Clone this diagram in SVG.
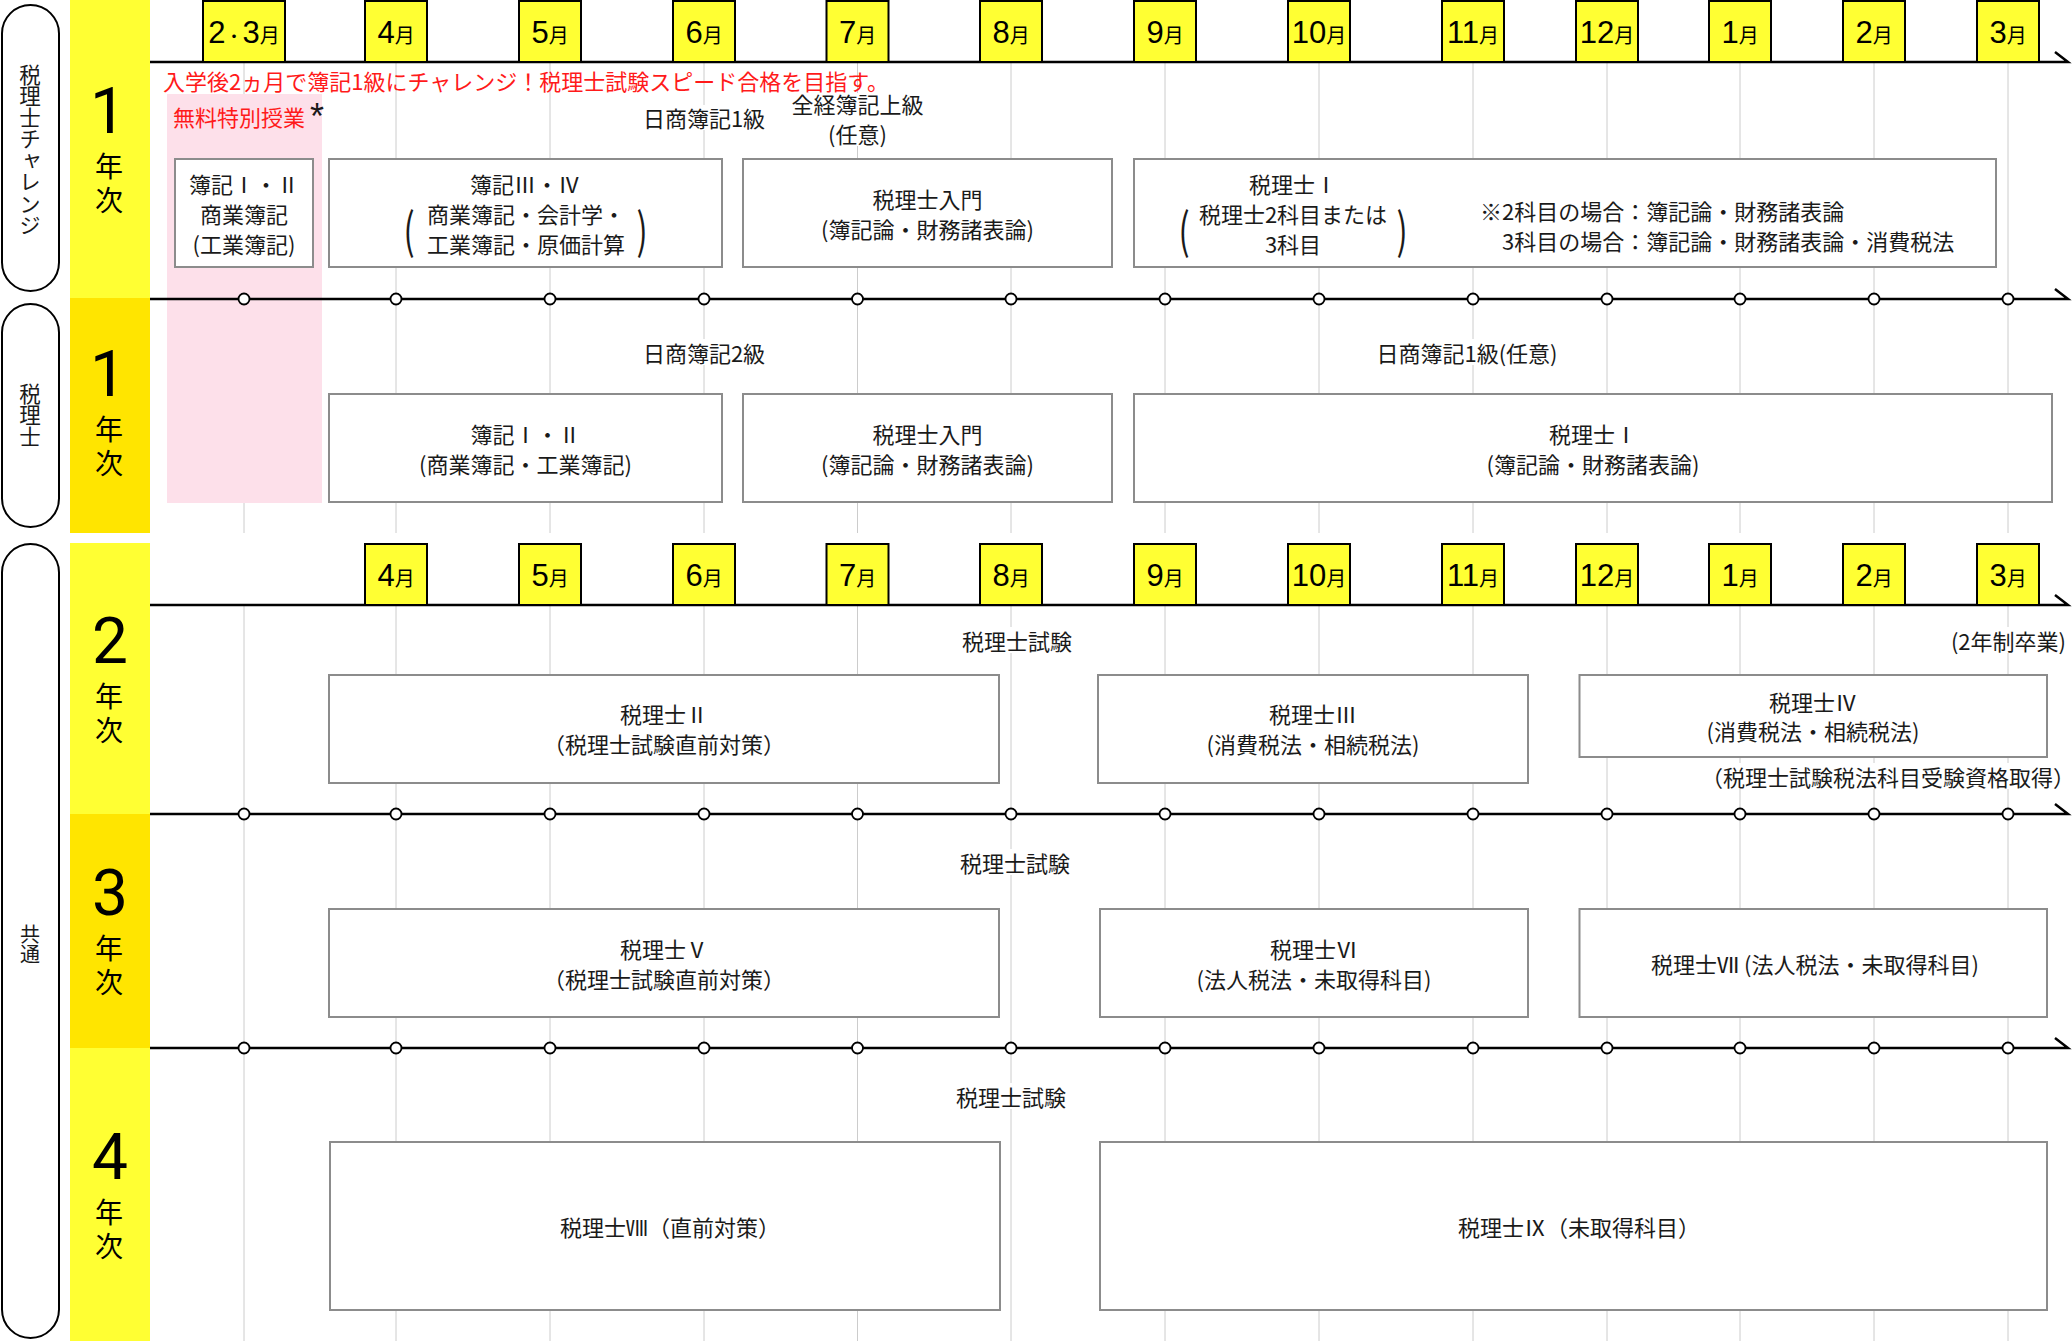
<svg xmlns="http://www.w3.org/2000/svg" width="2072" height="1341" viewBox="0 0 2072 1341">
<style>
.bgw{fill:#fff}
.yl{fill:#ffff33}
.yd{fill:#ffe500}
.pink{fill:#fde0ea}
.pill{fill:#fff;stroke:#000;stroke-width:2}
.mb{fill:#ffff33;stroke:#000;stroke-width:2}
.box{fill:#fff;stroke:#8c8c8c;stroke-width:2}
.grid{stroke:#cccccc;stroke-width:1;fill:none}
.tl{stroke:#000;stroke-width:2.5;fill:none}
.dot{fill:#fff;stroke:#000;stroke-width:1.8}
.t{font-family:"Noto Sans CJK JP","Noto Sans CJK SC",sans-serif;font-size:22px;fill:#1a1a1a;text-anchor:middle;dominant-baseline:central}
.ts{text-anchor:start}
.te{text-anchor:end}
.red{fill:#ff1a1a}
.mt{text-anchor:middle;fill:#000}
.d{font-family:"Liberation Sans Narrow","Liberation Sans",Arial,sans-serif;font-size:31px}
.k{font-family:"Noto Sans CJK JP",sans-serif;font-size:20px}
.kd{font-family:"Noto Sans CJK JP",sans-serif;font-size:17px}
.num{font-family:Roboto,"Liberation Sans",sans-serif;font-size:64px;fill:#000;text-anchor:middle}
.nen{font-family:"Noto Sans CJK JP",sans-serif;font-size:28px;fill:#000;text-anchor:middle;dominant-baseline:central}
.vt{font-family:"Noto Sans CJK JP",sans-serif;font-size:21.5px;fill:#1a1a1a;writing-mode:vertical-rl;text-anchor:middle}
.par{font-family:"Noto Sans CJK JP",sans-serif;font-size:22px;fill:#1a1a1a;text-anchor:middle;dominant-baseline:central}
.ast{font-family:"Liberation Sans",Arial,sans-serif;font-size:36px;fill:#1a1a1a;text-anchor:middle}
</style>

<!-- background bands -->
<g id="bands">
<rect class="yl" x="70" y="0" width="80" height="298"/>
<rect class="yd" x="70" y="298" width="80" height="235"/>
<rect class="yl" x="70" y="543" width="80" height="271"/>
<rect class="yd" x="70" y="814" width="80" height="234"/>
<rect class="yl" x="70" y="1048" width="80" height="293"/>
</g>

<!-- grid lines -->
<g id="grid" class="grid">
<path d="M244 62V533M396 62V533M550 62V533M704 62V533M857.5 62V533M1011 62V533M1165 62V533M1319 62V533M1473 62V533M1607 62V533M1740 62V533M1874 62V533M2008 62V533"/>
<path d="M244 605V1341M396 605V1341M550 605V1341M704 605V1341M857.5 605V1341M1011 605V1341M1165 605V1341M1319 605V1341M1473 605V1341M1607 605V1341M1740 605V1341M1874 605V1341M2008 605V1341"/>
</g>

<rect id="free-class-area" class="pink" x="167" y="94" width="155" height="409"/>

<!-- left pills -->
<g id="pill-challenge">
<rect class="pill" x="2" y="5" width="57" height="286" rx="28.5"/>
<text class="vt" x="30" y="150">税理士チャレンジ</text>
</g>
<g id="pill-zeirishi">
<rect class="pill" x="2" y="304" width="57" height="223" rx="28.5"/>
<text class="vt" x="30" y="415">税理士</text>
</g>
<g id="pill-common">
<rect class="pill" x="2" y="544" width="57" height="794" rx="28.5"/>
<text class="vt" x="30" y="944" style="font-size:20px">共通</text>
</g>

<!-- year labels -->
<g id="year-1a"><text class="num" x="108" y="133">1</text><text class="nen" x="109" y="165">年</text><text class="nen" x="109" y="199">次</text></g>
<g id="year-1b"><text class="num" x="108" y="396">1</text><text class="nen" x="109" y="428">年</text><text class="nen" x="109" y="462">次</text></g>
<g id="year-2"><text class="num" x="110" y="663">2</text><text class="nen" x="109" y="695">年</text><text class="nen" x="109" y="729">次</text></g>
<g id="year-3"><text class="num" x="110" y="915">3</text><text class="nen" x="109" y="947">年</text><text class="nen" x="109" y="981">次</text></g>
<g id="year-4"><text class="num" x="110" y="1179">4</text><text class="nen" x="109" y="1211">年</text><text class="nen" x="109" y="1245">次</text></g>

<!-- timelines -->
<g id="connectors">
<path class="tl" d="M150 62H2068L2055 52M150 299H2068L2055 289M150 605H2068L2055 595M150 814H2068L2055 804M150 1048H2068L2055 1038"/>
<g class="dot">
<circle cx="244" cy="299" r="5.5"/><circle cx="396" cy="299" r="5.5"/><circle cx="550" cy="299" r="5.5"/><circle cx="704" cy="299" r="5.5"/><circle cx="857.5" cy="299" r="5.5"/><circle cx="1011" cy="299" r="5.5"/><circle cx="1165" cy="299" r="5.5"/><circle cx="1319" cy="299" r="5.5"/><circle cx="1473" cy="299" r="5.5"/><circle cx="1607" cy="299" r="5.5"/><circle cx="1740" cy="299" r="5.5"/><circle cx="1874" cy="299" r="5.5"/><circle cx="2008" cy="299" r="5.5"/>
<circle cx="244" cy="814" r="5.5"/><circle cx="396" cy="814" r="5.5"/><circle cx="550" cy="814" r="5.5"/><circle cx="704" cy="814" r="5.5"/><circle cx="857.5" cy="814" r="5.5"/><circle cx="1011" cy="814" r="5.5"/><circle cx="1165" cy="814" r="5.5"/><circle cx="1319" cy="814" r="5.5"/><circle cx="1473" cy="814" r="5.5"/><circle cx="1607" cy="814" r="5.5"/><circle cx="1740" cy="814" r="5.5"/><circle cx="1874" cy="814" r="5.5"/><circle cx="2008" cy="814" r="5.5"/>
<circle cx="244" cy="1048" r="5.5"/><circle cx="396" cy="1048" r="5.5"/><circle cx="550" cy="1048" r="5.5"/><circle cx="704" cy="1048" r="5.5"/><circle cx="857.5" cy="1048" r="5.5"/><circle cx="1011" cy="1048" r="5.5"/><circle cx="1165" cy="1048" r="5.5"/><circle cx="1319" cy="1048" r="5.5"/><circle cx="1473" cy="1048" r="5.5"/><circle cx="1607" cy="1048" r="5.5"/><circle cx="1740" cy="1048" r="5.5"/><circle cx="1874" cy="1048" r="5.5"/><circle cx="2008" cy="1048" r="5.5"/>
</g>
</g>

<!-- month boxes row 1 -->
<g id="months-1">
<rect class="mb" x="203" y="1" width="82" height="61"/>
<rect class="mb" x="365" y="1" width="62" height="61"/>
<rect class="mb" x="519" y="1" width="62" height="61"/>
<rect class="mb" x="673" y="1" width="62" height="61"/>
<rect class="mb" x="826.5" y="1" width="62" height="61"/>
<rect class="mb" x="980" y="1" width="62" height="61"/>
<rect class="mb" x="1134" y="1" width="62" height="61"/>
<rect class="mb" x="1288" y="1" width="62" height="61"/>
<rect class="mb" x="1442" y="1" width="62" height="61"/>
<rect class="mb" x="1576" y="1" width="62" height="61"/>
<rect class="mb" x="1709" y="1" width="62" height="61"/>
<rect class="mb" x="1843" y="1" width="62" height="61"/>
<rect class="mb" x="1977" y="1" width="62" height="61"/>
<text class="mt" x="244" y="43"><tspan class="d">2</tspan><tspan class="kd">・</tspan><tspan class="d">3</tspan><tspan class="k">月</tspan></text>
<text class="mt" x="396" y="43"><tspan class="d">4</tspan><tspan class="k">月</tspan></text>
<text class="mt" x="550" y="43"><tspan class="d">5</tspan><tspan class="k">月</tspan></text>
<text class="mt" x="704" y="43"><tspan class="d">6</tspan><tspan class="k">月</tspan></text>
<text class="mt" x="857.5" y="43"><tspan class="d">7</tspan><tspan class="k">月</tspan></text>
<text class="mt" x="1011" y="43"><tspan class="d">8</tspan><tspan class="k">月</tspan></text>
<text class="mt" x="1165" y="43"><tspan class="d">9</tspan><tspan class="k">月</tspan></text>
<text class="mt" x="1319" y="43"><tspan class="d">10</tspan><tspan class="k">月</tspan></text>
<text class="mt" x="1473" y="43"><tspan class="d">11</tspan><tspan class="k">月</tspan></text>
<text class="mt" x="1607" y="43"><tspan class="d">12</tspan><tspan class="k">月</tspan></text>
<text class="mt" x="1740" y="43"><tspan class="d">1</tspan><tspan class="k">月</tspan></text>
<text class="mt" x="1874" y="43"><tspan class="d">2</tspan><tspan class="k">月</tspan></text>
<text class="mt" x="2008" y="43"><tspan class="d">3</tspan><tspan class="k">月</tspan></text>
</g>

<!-- month boxes row 2 -->
<g id="months-2">
<rect class="mb" x="365" y="544" width="62" height="61"/>
<rect class="mb" x="519" y="544" width="62" height="61"/>
<rect class="mb" x="673" y="544" width="62" height="61"/>
<rect class="mb" x="826.5" y="544" width="62" height="61"/>
<rect class="mb" x="980" y="544" width="62" height="61"/>
<rect class="mb" x="1134" y="544" width="62" height="61"/>
<rect class="mb" x="1288" y="544" width="62" height="61"/>
<rect class="mb" x="1442" y="544" width="62" height="61"/>
<rect class="mb" x="1576" y="544" width="62" height="61"/>
<rect class="mb" x="1709" y="544" width="62" height="61"/>
<rect class="mb" x="1843" y="544" width="62" height="61"/>
<rect class="mb" x="1977" y="544" width="62" height="61"/>
<text class="mt" x="396" y="586"><tspan class="d">4</tspan><tspan class="k">月</tspan></text>
<text class="mt" x="550" y="586"><tspan class="d">5</tspan><tspan class="k">月</tspan></text>
<text class="mt" x="704" y="586"><tspan class="d">6</tspan><tspan class="k">月</tspan></text>
<text class="mt" x="857.5" y="586"><tspan class="d">7</tspan><tspan class="k">月</tspan></text>
<text class="mt" x="1011" y="586"><tspan class="d">8</tspan><tspan class="k">月</tspan></text>
<text class="mt" x="1165" y="586"><tspan class="d">9</tspan><tspan class="k">月</tspan></text>
<text class="mt" x="1319" y="586"><tspan class="d">10</tspan><tspan class="k">月</tspan></text>
<text class="mt" x="1473" y="586"><tspan class="d">11</tspan><tspan class="k">月</tspan></text>
<text class="mt" x="1607" y="586"><tspan class="d">12</tspan><tspan class="k">月</tspan></text>
<text class="mt" x="1740" y="586"><tspan class="d">1</tspan><tspan class="k">月</tspan></text>
<text class="mt" x="1874" y="586"><tspan class="d">2</tspan><tspan class="k">月</tspan></text>
<text class="mt" x="2008" y="586"><tspan class="d">3</tspan><tspan class="k">月</tspan></text>
</g>

<!-- row-level labels -->
<g id="labels">
<text class="t ts red" x="163" y="80">入学後2ヵ月で簿記1級にチャレンジ！税理士試験スピード合格を目指す。</text>
<text class="t ts red" x="173" y="116">無料特別授業</text>
<text class="ast" x="317" y="129">*</text>
<rect class="bgw" x="640" y="105" width="128" height="25"/>
<text class="t" x="704" y="117">日商簿記1級</text>
<rect class="bgw" x="790" y="93" width="135" height="53"/>
<text class="t" x="857.5" y="103">全経簿記上級</text>
<text class="t" x="857.5" y="133">(任意)</text>
<rect class="bgw" x="640" y="339" width="128" height="26"/>
<text class="t" x="704" y="352">日商簿記2級</text>
<rect class="bgw" x="1372" y="339" width="190" height="26"/>
<text class="t" x="1467" y="352">日商簿記1級(任意)</text>
<rect class="bgw" x="960" y="627" width="115" height="26"/>
<text class="t" x="1017" y="640">税理士試験</text>
<rect class="bgw" x="1944" y="627" width="126" height="26"/>
<text class="t te" x="2066" y="640">(2年制卒業)</text>
<rect class="bgw" x="1718" y="763" width="352" height="26"/>
<text class="t te" x="2075" y="776">（税理士試験税法科目受験資格取得）</text>
<rect class="bgw" x="958" y="849" width="115" height="26"/>
<text class="t" x="1015" y="862">税理士試験</text>
<rect class="bgw" x="954" y="1083" width="115" height="26"/>
<text class="t" x="1011" y="1096">税理士試験</text>
</g>

<!-- nodes -->
<g id="boki-1-2-challenge">
<rect class="box" x="175" y="159" width="138" height="108"/>
<text class="t" x="244" y="183">簿記Ⅰ・Ⅱ</text>
<text class="t" x="244" y="213">商業簿記</text>
<text class="t" x="244" y="243">(工業簿記)</text>
</g>
<g id="boki-3-4">
<rect class="box" x="329" y="159" width="393" height="108"/>
<text class="t" x="525" y="183">簿記Ⅲ・Ⅳ</text>
<text class="t" x="526" y="213">商業簿記・会計学・</text>
<text class="t" x="526" y="243">工業簿記・原価計算</text>
<text class="par" transform="translate(409 228) scale(1.5 2.2)">(</text>
<text class="par" transform="translate(642 228) scale(1.5 2.2)">)</text>
</g>
<g id="nyumon-challenge">
<rect class="box" x="743" y="159" width="369" height="108"/>
<text class="t" x="927.5" y="198">税理士入門</text>
<text class="t" x="927.5" y="228">(簿記論・財務諸表論)</text>
</g>
<g id="zeirishi-1-challenge">
<rect class="box" x="1134" y="159" width="862" height="108"/>
<text class="t" x="1293" y="183">税理士Ⅰ</text>
<text class="t" x="1293" y="213">税理士2科目または</text>
<text class="t" x="1293" y="243">3科目</text>
<text class="par" transform="translate(1184 228) scale(1.5 2.2)">(</text>
<text class="par" transform="translate(1402 228) scale(1.5 2.2)">)</text>
<text class="t ts" x="1480" y="210">※2科目の場合：簿記論・財務諸表論</text>
<text class="t ts" x="1502" y="240">3科目の場合：簿記論・財務諸表論・消費税法</text>
</g>

<g id="boki-1-2">
<rect class="box" x="329" y="394" width="393" height="108"/>
<text class="t" x="525.5" y="433">簿記Ⅰ・Ⅱ</text>
<text class="t" x="525.5" y="463">(商業簿記・工業簿記)</text>
</g>
<g id="nyumon">
<rect class="box" x="743" y="394" width="369" height="108"/>
<text class="t" x="927.5" y="433">税理士入門</text>
<text class="t" x="927.5" y="463">(簿記論・財務諸表論)</text>
</g>
<g id="zeirishi-1">
<rect class="box" x="1134" y="394" width="918" height="108"/>
<text class="t" x="1593" y="433">税理士Ⅰ</text>
<text class="t" x="1593" y="463">(簿記論・財務諸表論)</text>
</g>

<g id="zeirishi-2">
<rect class="box" x="329" y="675" width="670" height="108"/>
<text class="t" x="664" y="713">税理士Ⅱ</text>
<text class="t" x="664" y="743">（税理士試験直前対策）</text>
</g>
<g id="zeirishi-3">
<rect class="box" x="1098" y="675" width="430" height="108"/>
<text class="t" x="1313" y="713">税理士Ⅲ</text>
<text class="t" x="1313" y="743">(消費税法・相続税法)</text>
</g>
<g id="zeirishi-4">
<rect class="box" x="1579.5" y="675" width="467.5" height="82"/>
<text class="t" x="1813" y="701">税理士Ⅳ</text>
<text class="t" x="1813" y="730">(消費税法・相続税法)</text>
</g>

<g id="zeirishi-5">
<rect class="box" x="329" y="909" width="670" height="108"/>
<text class="t" x="664" y="948">税理士Ⅴ</text>
<text class="t" x="664" y="978">（税理士試験直前対策）</text>
</g>
<g id="zeirishi-6">
<rect class="box" x="1100" y="909" width="428" height="108"/>
<text class="t" x="1314" y="948">税理士Ⅵ</text>
<text class="t" x="1314" y="978">(法人税法・未取得科目)</text>
</g>
<g id="zeirishi-7">
<rect class="box" x="1579.5" y="909" width="467.5" height="108"/>
<text class="t" x="1815" y="963">税理士Ⅶ (法人税法・未取得科目)</text>
</g>

<g id="zeirishi-8">
<rect class="box" x="330" y="1142" width="670" height="168"/>
<text class="t" x="670" y="1226">税理士Ⅷ（直前対策）</text>
</g>
<g id="zeirishi-9">
<rect class="box" x="1100" y="1142" width="947" height="168"/>
<text class="t" x="1579" y="1226">税理士Ⅸ（未取得科目）</text>
</g>
</svg>
